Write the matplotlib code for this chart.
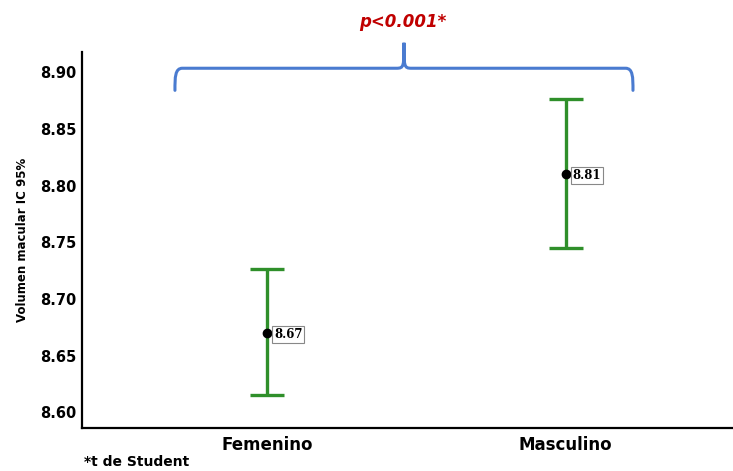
"""Volumen macular por sexo: media con IC 95% y llave de comparacion."""

import numpy as np
import matplotlib

matplotlib.use("Agg")

import matplotlib.pyplot as plt
from matplotlib.path import Path
from matplotlib.patches import PathPatch

# data
categories = ["Femenino", "Masculino"]
means = [8.67, 8.81]
ci_lower = [8.615, 8.745]
ci_upper = [8.726, 8.876]
mean_labels = ["8.67", "8.81"]
y_ticks = [8.60, 8.65, 8.70, 8.75, 8.80, 8.85, 8.90]
p_text = "p<0.001*"
footnote = "*t de Student"

GREEN = "#2f8f2a"
BLUE = "#4a7bd0"
RED = "#c00000"

plt.rcParams["font.family"] = ["DejaVu Sans"]

fig = plt.figure(figsize=(7.33, 4.71), dpi=100)
ax = fig.add_axes([0.112, 0.091, 0.888, 0.799])

x = np.arange(len(categories))
means_arr = np.array(means)
yerr = np.vstack([means_arr - np.array(ci_lower), np.array(ci_upper) - means_arr])

ax.errorbar(x, means_arr, yerr=yerr, fmt="none", ecolor=GREEN, elinewidth=2.4,
            capsize=12, capthick=2.4, zorder=2)
ax.plot(x, means_arr, "o", color="black", markersize=6, zorder=3)

for xi, m, lab in zip(x, means, mean_labels):
    ax.annotate(lab, (xi, m), xytext=(5, -1), textcoords="offset points",
                ha="left", va="center", fontsize=8.5, fontweight="bold",
                family="DejaVu Serif",
                bbox=dict(boxstyle="square,pad=0.15", fc="white", ec="#888888", lw=0.8))

ax.set_xlim(-0.62, 1.56)
ax.set_ylim(8.586, 8.918)
ax.set_xticks(x)
ax.set_xticklabels(categories, fontsize=12, fontweight="bold")
ax.set_yticks(y_ticks)
ax.set_yticklabels([f"{v:.2f}" for v in y_ticks], fontsize=10.5, fontweight="bold")
ax.tick_params(length=0, pad=4)
ax.tick_params(axis="x", pad=6)
for side in ["top", "right"]:
    ax.spines[side].set_visible(False)
for side in ["left", "bottom"]:
    ax.spines[side].set_linewidth(1.6)

ax.set_ylabel("Volumen macular IC 95%", fontsize=8.5, fontweight="bold", labelpad=8)

# curly brace over both groups
x_l, x_r = -0.309, 1.225
x_m = (x_l + x_r) / 2
y_end, y_h, y_tip = 8.884, 8.9035, 8.926
rx, ry = 0.025, 0.008
verts = [
    (x_l, y_end), (x_l, y_h - ry), (x_l, y_h), (x_l + rx, y_h),
    (x_m - rx, y_h),
    (x_m, y_h), (x_m, y_h + ry * 0.2), (x_m, y_tip),
    (x_m, y_h + ry * 0.2), (x_m, y_h), (x_m + rx, y_h),
    (x_r - rx, y_h),
    (x_r, y_h), (x_r, y_h - ry), (x_r, y_end),
]
codes = [Path.MOVETO, Path.CURVE4, Path.CURVE4, Path.CURVE4,
         Path.LINETO,
         Path.CURVE4, Path.CURVE4, Path.CURVE4,
         Path.CURVE4, Path.CURVE4, Path.CURVE4,
         Path.LINETO,
         Path.CURVE4, Path.CURVE4, Path.CURVE4]
ax.add_patch(PathPatch(Path(verts, codes), fc="none", ec=BLUE, lw=2.2,
                       clip_on=False, capstyle="round"))

fig.text(403 / 733, 1 - 22 / 471, p_text, color=RED, fontsize=12, fontweight="bold",
         fontstyle="italic", ha="center", va="center")
fig.text(84 / 733, 1 - 462 / 471, footnote, fontsize=10, fontweight="bold",
         ha="left", va="center")

fig.savefig("out.png", dpi=100)
